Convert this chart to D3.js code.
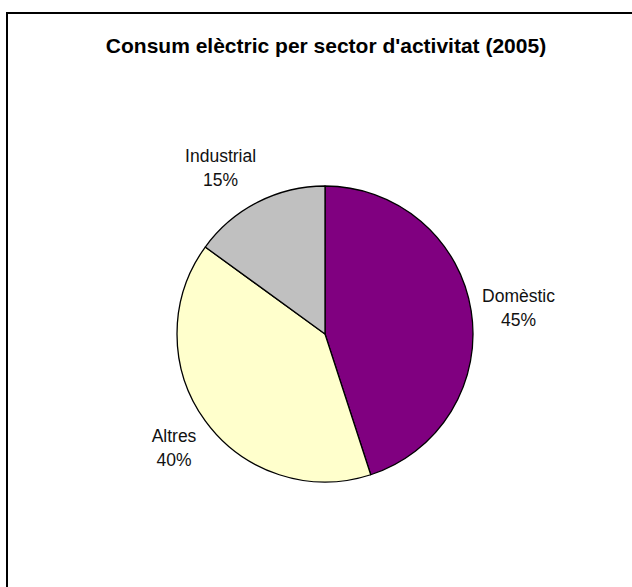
<!DOCTYPE html>
<html>
<head>
<meta charset="utf-8">
<script src="https://cdn.jsdelivr.net/npm/d3@7"></script>
<style>
  html, body { margin: 0; padding: 0; background: #fff; }
  svg { display: block; font-family: Arial, "Liberation Sans", sans-serif; }
</style>
</head>
<body>
<svg id="chart" width="632" height="587"></svg>
<script>
// Electricity consumption by activity sector, 2005 (percent)
const sectors = ["Domèstic", "Altres", "Industrial"];
const shares = [45, 40, 15];
const colors = ["#800080", "#FFFFCC", "#C0C0C0"];
const title = "Consum elèctric per sector d'activitat (2005)";

const W = 632, H = 587;
const cx = 325, cy = 334, R = 148;

const svg = d3.select("#chart");

// Chart frame (runs past the right and bottom edges of the page)
svg.append("rect")
  .attr("x", 7).attr("y", 13)
  .attr("width", W + 20).attr("height", H + 20)
  .attr("fill", "#fff")
  .attr("stroke", "#000")
  .attr("stroke-width", 2);

svg.append("text")
  .attr("x", cx + 1).attr("y", 53)
  .attr("text-anchor", "middle")
  .attr("font-size", 21)
  .attr("font-weight", "bold")
  .attr("fill", "#000")
  .text(title);

const data = sectors.map((s, i) => ({ name: s, value: shares[i], color: colors[i] }));

const pie = d3.pie().value(d => d.value).sort(null);
const arcs = pie(data);
const arc = d3.arc().innerRadius(0).outerRadius(R);

const g = svg.append("g").attr("transform", `translate(${cx},${cy})`);

g.selectAll("path.slice")
  .data(arcs)
  .enter().append("path")
  .attr("class", "slice")
  .attr("d", arc)
  .attr("fill", d => d.data.color)
  .attr("stroke", "#000")
  .attr("stroke-width", 1.3)
  .attr("stroke-linejoin", "round");

// Outside labels: the box corner facing the pie sits just off the rim
const labelR = R + 11;
const fontSize = 17.5, lineH = 24;
const total = d3.sum(shares);
const clamp = v => Math.max(-1, Math.min(1, v));

arcs.forEach(a => {
  const mid = (a.startAngle + a.endAngle) / 2;
  const s = Math.sin(mid), c = Math.cos(mid);
  const px = labelR * s, py = -labelR * c;

  const t = g.append("text")
    .attr("text-anchor", "middle")
    .attr("font-size", fontSize)
    .attr("fill", "#111");
  const l1 = t.append("tspan").text(a.data.name);
  const l2 = t.append("tspan").text(Math.round(a.data.value / total * 100) + "%");

  const w = Math.max(l1.node().getComputedTextLength(), l2.node().getComputedTextLength());
  const h = lineH * 2;
  const fx = clamp(2 * s);
  const fy = clamp(-2.5 * c * Math.abs(c));
  const bx = px + fx * w / 2;
  const by = py + fy * h / 2;

  l1.attr("x", bx).attr("y", by - lineH / 2 + fontSize * 0.35);
  l2.attr("x", bx).attr("y", by + lineH / 2 + fontSize * 0.35);
});
</script>
</body>
</html>
